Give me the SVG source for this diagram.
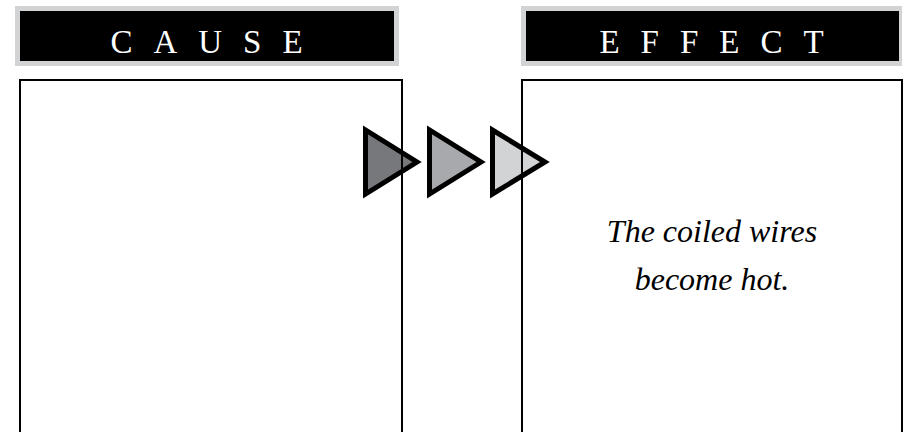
<svg xmlns="http://www.w3.org/2000/svg" width="907" height="432" viewBox="0 0 907 432">
<style>
.hdr-bg{fill:#d1d3d4}
.hdr{fill:#000}
.hdr-t{fill:#fff;font-family:"Liberation Serif",serif;font-size:33px;letter-spacing:21px;text-anchor:middle}
.box{fill:none;stroke:#000;stroke-width:2}
.arr{stroke:#000;stroke-width:5;stroke-linejoin:miter}
.body{font-family:"Liberation Serif",serif;font-style:italic;font-size:32px;text-anchor:middle;fill:#000}
</style>
<rect width="907" height="432" fill="#fff"/>
<g id="connectors">
<polygon class="arr" fill="#77787b" points="365.5,130 365.5,194 417,162"/>
<polygon class="arr" fill="#a7a9ac" points="429.5,130 429.5,194 481,162"/>
<polygon class="arr" fill="#d1d3d4" points="492.5,130 492.5,194 545,162"/>
</g>
<g id="cause">
<rect class="hdr-bg" x="15" y="6" width="384" height="60"/>
<rect class="hdr" x="20" y="11" width="374" height="50"/>
<text class="hdr-t" x="217" y="53">CAUSE</text>
<rect class="box" x="20" y="80" width="382" height="360"/>
</g>
<g id="effect">
<rect class="hdr-bg" x="521" y="6" width="381" height="60"/>
<rect class="hdr" x="526" y="11" width="373" height="50"/>
<text class="hdr-t" x="722" y="53">EFFECT</text>
<rect class="box" x="522" y="80" width="380" height="360"/>
<text class="body" x="712" y="242">The coiled wires</text>
<text class="body" x="712" y="290">become hot.</text>
</g>
</svg>
